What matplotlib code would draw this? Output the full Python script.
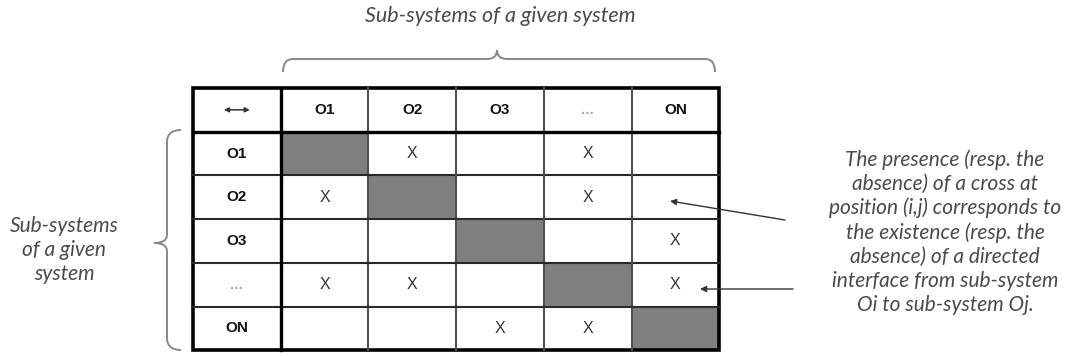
import matplotlib
matplotlib.use("Agg")
import matplotlib.pyplot as plt
from matplotlib.patches import Rectangle, PathPatch
from matplotlib.path import Path

# Table content
labels = ["O1", "O2", "O3", "...", "ON"]
# crosses[i][j] = 1 -> directed interface from row i to column j
crosses = [
    [0, 1, 0, 1, 0],
    [1, 0, 0, 1, 0],
    [0, 0, 0, 0, 1],
    [1, 1, 0, 0, 1],
    [0, 0, 1, 1, 0],
]
top_title = "Sub-systems of a given system"
left_title = "Sub-systems\nof a given\nsystem"
note = ("The presence (resp. the\nabsence) of a cross at\n"
        "position (i,j) corresponds to\nthe existence (resp. the\n"
        "absence) of a directed\ninterface from sub-system\n"
        "Oi to sub-system Oj.")

W, H = 1065, 356
fig = plt.figure(figsize=(W / 100, H / 100), dpi=100)
ax = fig.add_axes([0, 0, 1, 1])
ax.set_xlim(0, W)
ax.set_ylim(H, 0)
ax.axis("off")

# grid geometry (pixels)
x0, y0 = 193, 88
cw, ch = 87.7, 43.7
n = len(labels) + 1
gray = "#7f7f7f"
italic_col = "#4a4a4a"
ifont = "Lato"

# diagonal cells
for i in range(len(labels)):
    ax.add_patch(Rectangle((x0 + (i + 1) * cw, y0 + (i + 1) * ch), cw, ch,
                           facecolor=gray, edgecolor="none"))

# inner lines
for k in range(2, n):
    ax.plot([x0 + k * cw] * 2, [y0, y0 + n * ch], color="#505050", lw=1.5)
    ax.plot([x0, x0 + n * cw], [y0 + k * ch] * 2, color="#2a2a2a", lw=1.5)
# thick lines
ax.plot([x0 + cw] * 2, [y0, y0 + n * ch], color="black", lw=2.4)
ax.plot([x0, x0 + n * cw], [y0 + ch] * 2, color="black", lw=2.4)
ax.add_patch(Rectangle((x0, y0), n * cw, n * ch, facecolor="none",
                       edgecolor="black", lw=2.6))

# header texts
for j, lab in enumerate(labels):
    c = "#aaaaaa" if lab == "..." else "#111111"
    ax.text(x0 + (j + 1.5) * cw, y0 + 0.5 * ch, lab, ha="center",
            va="center", fontsize=11, fontweight="bold", color=c,
            family="Liberation Sans")
    ax.text(x0 + 0.5 * cw, y0 + (j + 1.5) * ch, lab, ha="center",
            va="center", fontsize=11, fontweight="bold", color=c,
            family="Liberation Sans")
ax.annotate("", xy=(x0 + 0.5 * cw + 13, y0 + 0.5 * ch),
            xytext=(x0 + 0.5 * cw - 13, y0 + 0.5 * ch),
            arrowprops=dict(arrowstyle="<|-|>", color="#333333", lw=1.1,
                            mutation_scale=7, shrinkA=0, shrinkB=0))

# crosses
for i, row in enumerate(crosses):
    for j, v in enumerate(row):
        if v:
            ax.text(x0 + (j + 1.5) * cw, y0 + (i + 1.5) * ch, "X",
                    ha="center", va="center", fontsize=11.5, color="#333333",
                    family="Liberation Sans")

# braces
bc = "#888888"
top = Path([(283, 72), (283, 59), (293, 59), (487, 59), (497, 59), (497, 50),
            (497, 59), (507, 59), (705, 59), (715, 59), (715, 72)],
           [Path.MOVETO, Path.CURVE3, Path.CURVE3, Path.LINETO, Path.CURVE3,
            Path.CURVE3, Path.CURVE3, Path.CURVE3, Path.LINETO, Path.CURVE3,
            Path.CURVE3])
ax.add_patch(PathPatch(top, facecolor="none", edgecolor=bc, lw=1.4))
left = Path([(181, 130), (167, 130), (167, 142), (167, 235), (167, 243),
             (154, 243), (167, 243), (167, 251), (167, 338), (167, 350),
             (181, 350)],
            [Path.MOVETO, Path.CURVE3, Path.CURVE3, Path.LINETO, Path.CURVE3,
             Path.CURVE3, Path.CURVE3, Path.CURVE3, Path.LINETO, Path.CURVE3,
             Path.CURVE3])
ax.add_patch(PathPatch(left, facecolor="none", edgecolor=bc, lw=1.4))

# italic texts
ax.text(500, 16, top_title, ha="center", va="center", fontsize=15.5,
        style="italic", color=italic_col, family=ifont)
ax.text(64, 250, left_title, ha="center", va="center", fontsize=15,
        style="italic", color=italic_col, family=ifont, linespacing=1.25)
ax.text(945, 232, note, ha="center", va="center", fontsize=15,
        style="italic", color=italic_col, family=ifont, linespacing=1.25)

# pointer arrows
ap = dict(arrowstyle="-|>", color="#333333", lw=1.0, mutation_scale=9,
          shrinkA=0, shrinkB=0)
ax.annotate("", xy=(670, 201), xytext=(785, 220), arrowprops=ap)
ax.annotate("", xy=(700, 289), xytext=(793, 289), arrowprops=ap)

fig.savefig("out.png", dpi=100, facecolor="white")
